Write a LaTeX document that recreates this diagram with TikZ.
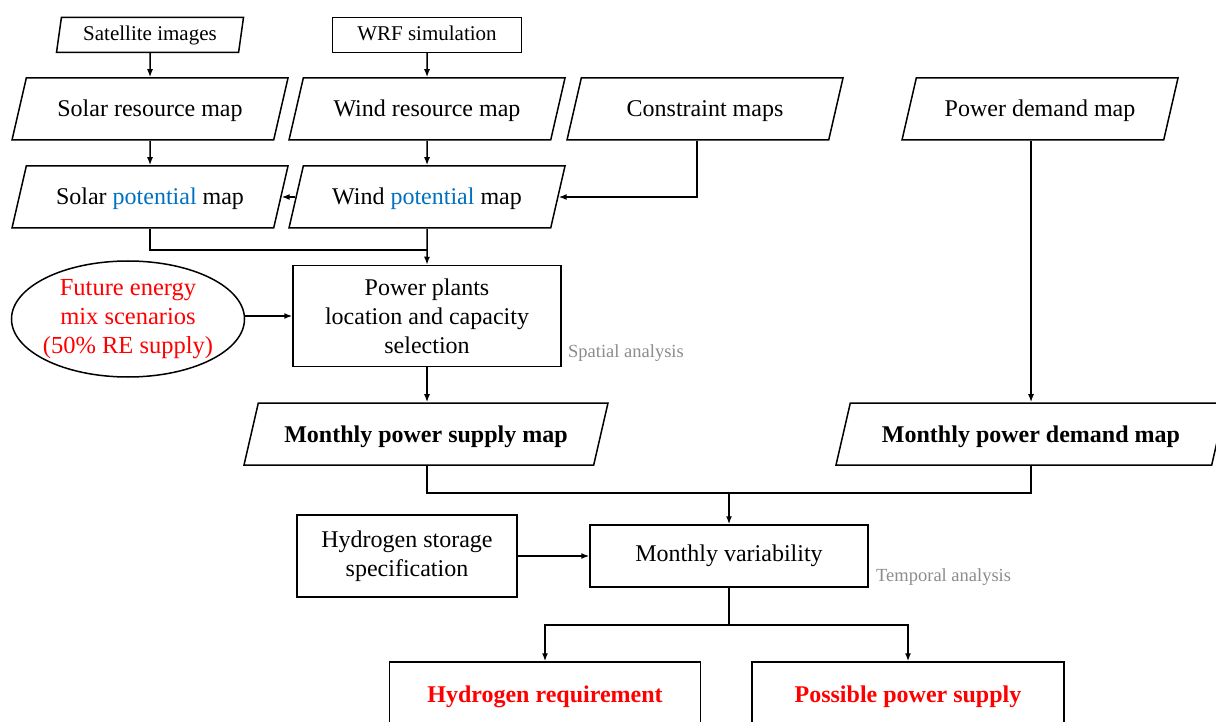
\documentclass[tikz,border=0pt]{standalone}
\usepackage{fontspec}
\setmainfont{Liberation Serif}
\usetikzlibrary{shapes.geometric,arrows.meta}

\definecolor{potblue}{RGB}{0,112,192}
\definecolor{notegray}{RGB}{140,140,140}

\begin{document}
\begin{tikzpicture}[x=1pt,y=-1pt,
		mapbox/.style={draw,line width=1.5pt,trapezium,trapezium left angle=77,trapezium right angle=103,trapezium stretches body=true,inner xsep=0pt,inner ysep=20pt,text height=19pt,text depth=3pt,minimum width=276,font=\fontsize{24}{29}\selectfont},
		srcbox/.style={draw,line width=1.5pt,inner xsep=0pt,inner ysep=8.5pt,text height=15pt,text depth=3pt,minimum width=189,font=\fontsize{21}{25}\selectfont},
		procbox/.style={draw,line width=1.5pt,inner sep=0pt,align=center,font=\fontsize{24}{29}\selectfont},
		outbox/.style={procbox,text=red,font=\fontsize{24}{29}\selectfont\bfseries,minimum height=70},
		note/.style={anchor=west,inner sep=0pt,text=notegray,font=\fontsize{18.5}{22}\selectfont},
		arr/.style={line width=1.5pt,-{Latex[length=8pt,width=6pt]}},
		link/.style={line width=1.5pt}]
			\useasboundingbox (0,0) rectangle (1216,722);
			\clip (0,0) rectangle (1216,722);
			\node[srcbox,trapezium,trapezium left angle=82,trapezium right angle=98,trapezium stretches body=true,minimum width=187] (sat) at (150,35) {Satellite images};
			\node[srcbox] (wrf) at (427,35) {WRF simulation};
			\node[mapbox] (srm) at (150,109) {Solar resource map};
			\node[mapbox] (wrm) at (427,109) {Wind resource map};
			\node[mapbox] (cm) at (705,109) {Constraint maps};
			\node[mapbox] (pdm) at (1040,109) {Power demand map};
			\node[mapbox] (spm) at (150,197) {Solar \textcolor{potblue}{potential} map};
			\node[mapbox] (wpm) at (427,197) {Wind \textcolor{potblue}{potential} map};
			\node[procbox,minimum width=268,minimum height=101] (ppl) at (427,316) {Power plants\\location and capacity\\selection};
			\node[draw,line width=1.5pt,ellipse,inner xsep=-6pt,inner ysep=0pt,minimum width=233,minimum height=116,align=center,text=red,font=\fontsize{24.5}{29}\selectfont] (fems) at (128,319) {Future energy\\mix scenarios\\(50\% RE supply)};
			\node[note] (spa) at (568,353) {Spatial analysis};
			\node[mapbox,minimum width=364,font=\fontsize{24}{29}\selectfont\bfseries] (mps) at (426,434) {Monthly power supply map};
			\node[mapbox,minimum width=390,font=\fontsize{24}{29}\selectfont\bfseries] (mpd) at (1031,434) {Monthly power demand map};
			\coordinate (join) at (729,493);
			\node[procbox,minimum width=278,minimum height=62] (mv) at (729,556) {Monthly variability};
			\node[procbox,minimum width=220,minimum height=82] (hss) at (407,556) {Hydrogen storage\\specification};
			\node[note] (tpa) at (876,577) {Temporal analysis};
			\coordinate (split) at (729,625);
			\node[outbox,minimum width=311] (hr) at (545,697) {Hydrogen requirement};
			\node[outbox,minimum width=312] (pps) at (908,697) {Possible power supply};

			\draw[arr] (sat.south) -- (srm.north);
			\draw[arr] (wrf.south) -- (wrm.north);
			\draw[arr] (srm.south) -- (spm.north);
			\draw[arr] (wrm.south) -- (wpm.north);
			\draw[arr] (wpm.left side) -- (spm.right side);
			\draw[arr] ([xshift=-8pt]cm.south) |- (wpm.right side);
			\coordinate (merge) at (427,250);
			\draw[link] (spm.south) |- (merge);
			\draw[arr] (wpm.south) -- (ppl.north);
			\draw[arr] (fems.east |- ppl.west) -- (ppl.west);
			\draw[arr] (ppl.south) -- (ppl.south |- mps.north);
			\draw[arr] (pdm.south -| mpd.north) -- (mpd.north);
			\draw[link] (mps.south -| ppl.south) |- (join) -| (mpd.south);
			\draw[arr] (join) -- (mv.north);
			\draw[arr] (hss.east) -- (mv.west);
			\draw[link] (mv.south) -- (split);
			\draw[arr] (split) -| (hr.north);
			\draw[arr] (split) -| (pps.north);
		\end{tikzpicture}
\end{document}
